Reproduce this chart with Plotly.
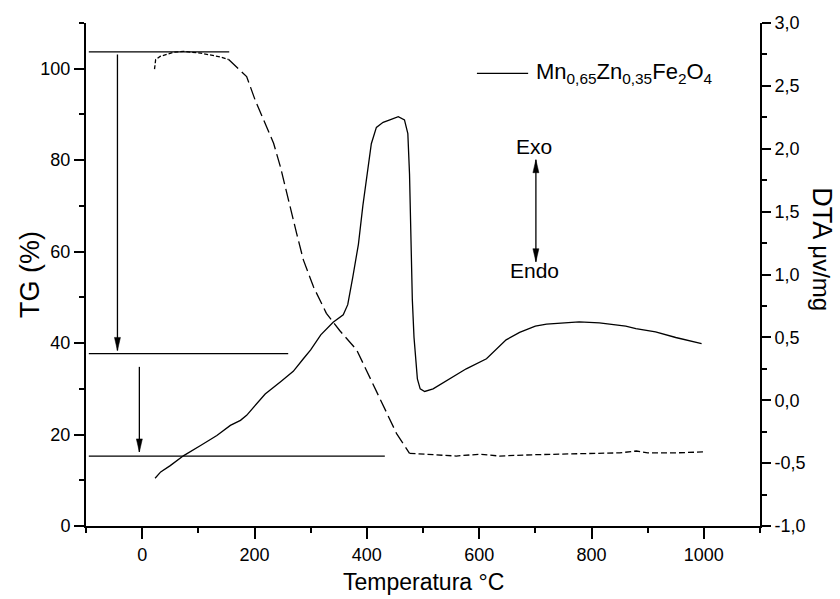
import plotly.graph_objects as go

# --- TG curve (mass %, left axis) ---
tg_temp = [22, 24, 32, 56, 74, 104, 139, 154, 169, 186, 201, 219, 234, 246, 257,
           263, 275, 287, 305, 328, 352, 382, 405, 429, 453, 476, 506, 559, 601,
           636, 700, 750, 800, 850, 880, 900, 950, 1000]
tg_mass = [99.9, 102.0, 102.7, 103.6, 103.8, 103.4, 102.6, 102.0, 100.2, 98.3,
           93.2, 88.1, 83.7, 78.6, 72.8, 69.8, 64.0, 58.2, 52.3, 46.5, 42.7,
           38.5, 32.5, 26.1, 20.2, 15.9, 15.7, 15.3, 15.7, 15.3, 15.6, 15.7,
           15.8, 16.0, 16.4, 16.0, 16.0, 16.2]

# --- DTA curve (µV/mg, right axis) ---
dta_temp = [23, 33, 50, 74, 104, 133, 157, 175, 186, 201, 219, 247, 269, 287, 300,
            318, 340, 358, 366, 375, 385, 393, 400, 408, 417, 429, 441, 456, 467,
            473, 476, 478, 481, 484, 487, 490, 495, 503, 518, 547, 577, 613, 630,
            648, 672, 700, 720, 743, 778, 814, 861, 879, 914, 950, 996]
dta_signal = [-0.62, -0.57, -0.52, -0.44, -0.36, -0.28, -0.20, -0.16, -0.12, -0.04,
              0.05, 0.15, 0.23, 0.33, 0.40, 0.52, 0.62, 0.68, 0.76, 0.98, 1.24,
              1.55, 1.78, 2.04, 2.17, 2.21, 2.23, 2.255, 2.23, 2.12, 1.8, 1.3, 0.8,
              0.5, 0.3, 0.17, 0.09, 0.07, 0.09, 0.17, 0.25, 0.33, 0.40, 0.48, 0.54,
              0.59, 0.605, 0.61, 0.623, 0.615, 0.589, 0.57, 0.543, 0.499, 0.451]

# Mass-loss step levels (TG %) and where each reference line ends (°C)
step_levels = [103.7, 37.7, 15.3]
step_line_end = [155, 260, 432]
step_line_start = -95

# Mass-loss arrows: x position, tail and head (TG %)
step_arrow_x = [-44, -5]
step_arrow_tail = [103.1, 34.8]
step_arrow_head = [38.4, 16.2]

# Exo/Endo indicator (x in °C, y ends in TG %)
exo_endo_x = 701
exo_endo_top = 80.1
exo_endo_bottom = 57.8

x_ticks = [0, 200, 400, 600, 800, 1000]
tg_ticks = [0, 20, 40, 60, 80, 100]
dta_ticks = [-1.0, -0.5, 0.0, 0.5, 1.0, 1.5, 2.0, 2.5, 3.0]
dta_tick_text = ["-1,0", "-0,5", "0,0", "0,5", "1,0", "1,5", "2,0", "2,5", "3,0"]

FONT = "Liberation Sans, Arial, sans-serif"
INK = "black"

fig = go.Figure()

# TG drawn in three runs: plateau, main decomposition, residue
segments = [(0, 8, "4px,2px"), (7, 26, "13px,5px"), (25, len(tg_temp), "6px,3px")]
for start, stop, dash in segments:
    fig.add_trace(go.Scatter(
        x=tg_temp[start:stop], y=tg_mass[start:stop], mode="lines",
        line=dict(color=INK, width=1.3, dash=dash),
        yaxis="y", showlegend=False, hoverinfo="skip"))

fig.add_trace(go.Scatter(
    x=dta_temp, y=dta_signal, mode="lines",
    line=dict(color=INK, width=1.3),
    yaxis="y2", showlegend=False, name="Mn0,65Zn0,35Fe2O4"))

shapes = []
annotations = []

# Horizontal step reference lines
for lvl, xend in zip(step_levels, step_line_end):
    shapes.append(dict(type="line", xref="x", yref="y",
                       x0=step_line_start, x1=xend, y0=lvl, y1=lvl,
                       line=dict(color=INK, width=1.3)))


def arrow_head(xa, ya, up):
    # narrow filled head, sized in pixels, tip at (xa, ya)
    h = 13 if not up else -13
    return dict(type="path", xref="x", yref="y", xsizemode="pixel", ysizemode="pixel",
                xanchor=xa, yanchor=ya,
                path=f"M0,0 L-3,{h} L3,{h} Z",
                fillcolor=INK, line=dict(color=INK, width=0.5))


for xa, y0, y1 in zip(step_arrow_x, step_arrow_tail, step_arrow_head):
    shapes.append(dict(type="line", xref="x", yref="y", x0=xa, x1=xa, y0=y0, y1=y1,
                       line=dict(color=INK, width=1.3)))
    shapes.append(arrow_head(xa, y1, up=False))

# Exo / Endo double arrow
shapes.append(dict(type="line", xref="x", yref="y", x0=exo_endo_x, x1=exo_endo_x,
                   y0=exo_endo_bottom, y1=exo_endo_top, line=dict(color=INK, width=1.3)))
shapes.append(arrow_head(exo_endo_x, exo_endo_top, up=True))
shapes.append(arrow_head(exo_endo_x, exo_endo_bottom, up=False))

annotations.append(dict(x=exo_endo_x - 4, y=83.0, xref="x", yref="y", text="Exo",
                        xanchor="center", yanchor="middle",
                        showarrow=False, font=dict(family=FONT, size=21, color=INK)))
annotations.append(dict(x=exo_endo_x - 2, y=55.8, xref="x", yref="y", text="Endo",
                        xanchor="center", yanchor="middle",
                        showarrow=False, font=dict(family=FONT, size=21, color=INK)))

# Legend key
shapes.append(dict(type="line", xref="paper", yref="paper", x0=0.580, x1=0.656,
                   y0=0.900, y1=0.900, line=dict(color=INK, width=1.3)))
annotations.append(dict(x=0.665, y=0.900, xref="paper", yref="paper",
                        xanchor="left", yanchor="middle", showarrow=False,
                        text="Mn<sub>0,65</sub>Zn<sub>0,35</sub>Fe<sub>2</sub>O<sub>4</sub>",
                        font=dict(family=FONT, size=22, color=INK)))

# Axis titles
annotations.append(dict(x=-0.084, y=0.5, xref="paper", yref="paper", text="TG (%)",
                        xanchor="center", yanchor="middle",
                        textangle=-90, showarrow=False,
                        font=dict(family=FONT, size=27, color=INK)))
annotations.append(dict(x=0.5, y=-0.112, xref="paper", yref="paper",
                        xanchor="center", yanchor="middle",
                        text="Temperatura °C", showarrow=False,
                        font=dict(family=FONT, size=23, color=INK)))
annotations.append(dict(x=1.092, y=0.55, xref="paper", yref="paper",
                        xanchor="center", yanchor="middle",
                        text="DTA <span style='font-size:24px'>μv/mg</span>",
                        textangle=90, showarrow=False,
                        font=dict(family=FONT, size=27, color=INK)))

axis_common = dict(showline=True, linecolor=INK, linewidth=2, ticks="outside",
                   tickwidth=2, tickcolor=INK, showgrid=False, zeroline=False,
                   tickfont=dict(family=FONT, size=18, color=INK))

fig.update_layout(
    width=840, height=599,
    margin=dict(l=86, r=80, t=23, b=73),
    paper_bgcolor="white", plot_bgcolor="white",
    showlegend=False,
    xaxis=dict(range=[-100, 1100], tickvals=x_ticks, ticklen=11,
               minor=dict(ticks="outside", ticklen=5, tickwidth=2, dtick=100,
                          tick0=-100, tickcolor=INK),
               **axis_common),
    yaxis=dict(range=[0, 110], tickvals=tg_ticks, ticklen=10,
               minor=dict(ticks="outside", ticklen=5, tickwidth=2, dtick=10,
                          tick0=0, tickcolor=INK),
               **axis_common),
    yaxis2=dict(range=[-1, 3], tickvals=dta_ticks, ticktext=dta_tick_text,
                overlaying="y", side="right", ticklen=9,
                minor=dict(ticks="outside", ticklen=5, tickwidth=2, dtick=0.25,
                           tick0=0, tickcolor=INK),
                **axis_common),
    shapes=shapes,
    annotations=annotations,
)

fig.write_html("out.html")
